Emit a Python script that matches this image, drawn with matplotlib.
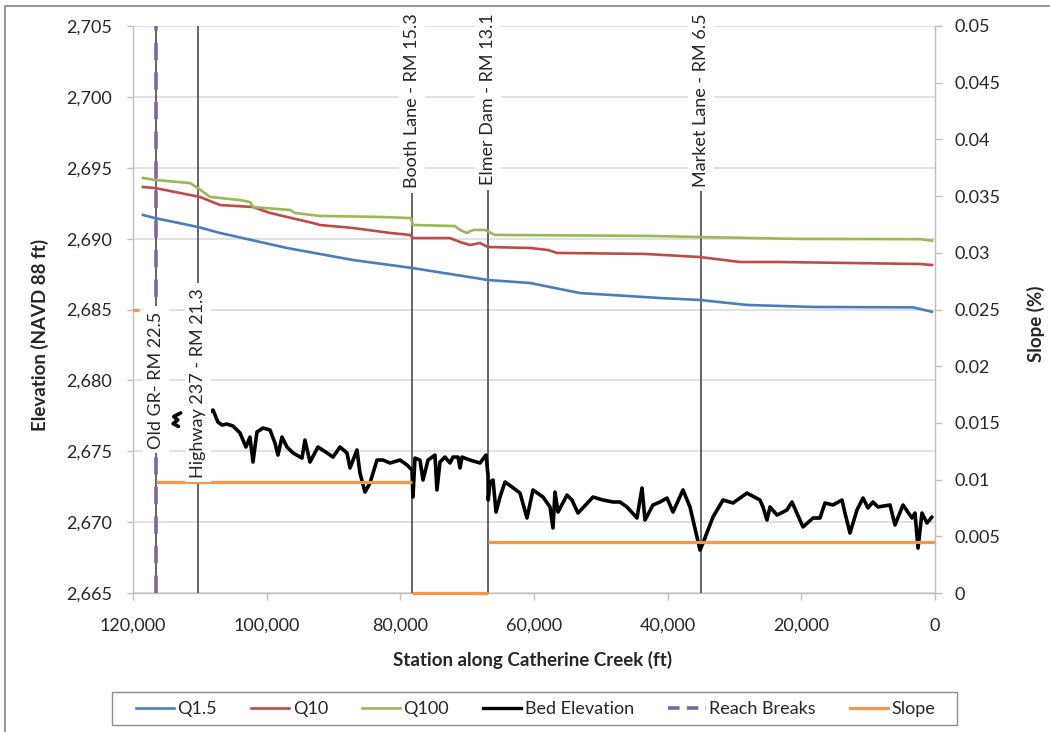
import matplotlib
matplotlib.use("Agg")
import matplotlib.pyplot as plt
import matplotlib.ticker as mticker
from matplotlib.lines import Line2D
from matplotlib.patches import Rectangle

plt.rcParams['font.family'] = ['Lato', 'DejaVu Sans']

nan = float('nan')

# ---------------- data ----------------
q15_station = [118510, 116710, 110280, 106990, 96960, 87080, 78260, 66880, 60600,
               53120, 41150, 35160, 28130, 18260, 3290, 450]
q15_elev = [2691.67, 2691.45, 2690.82, 2690.40, 2689.34, 2688.49, 2687.93, 2687.08,
            2686.87, 2686.16, 2685.81, 2685.67, 2685.32, 2685.18, 2685.15, 2684.84]

q10_station = [118510, 116710, 109980, 106990, 102050, 99500, 93070, 92020, 87080,
               81550, 78560, 78110, 72570, 71070, 69580, 68080, 66880, 60600, 57910,
               56560, 43390, 35160, 29180, 23190, 2240, 450]
q10_elev = [2693.64, 2693.57, 2692.94, 2692.37, 2692.23, 2691.81, 2691.10, 2690.96,
            2690.75, 2690.40, 2690.26, 2690.04, 2690.04, 2689.76, 2689.55, 2689.69,
            2689.41, 2689.34, 2689.20, 2688.99, 2688.92, 2688.70, 2688.35, 2688.35,
            2688.21, 2688.14]

q100_station = [118510, 116710, 111480, 110280, 108480, 103990, 102500, 102050, 100250,
                96510, 95760, 92020, 83050, 78410, 78110, 71820, 71070, 70020, 69130,
                67330, 65840, 42650, 35160, 20200, 2240, 450]
q100_elev = [2694.28, 2694.14, 2693.92, 2693.57, 2692.94, 2692.72, 2692.58, 2692.23,
             2692.16, 2692.02, 2691.81, 2691.60, 2691.53, 2691.45, 2690.96, 2690.89,
             2690.61, 2690.40, 2690.61, 2690.61, 2690.26, 2690.19, 2690.11, 2689.98,
             2689.96, 2689.86]

bed_station = [112870, 113900, 113300, 114000, 113200, nan,
               109000, 108030, 107290, 106690, 105940, 105040, 103990, 103100, 102500,
               102050, 101450, 100550, 99500, 98760, 98310, 97710, 96960, 96060, 94710,
               94270, 93520, 92320, 90970, 90080, 89030, 87980, 87530, 86490, 86040,
               85290, 84540, 83490, 82600, 81550, 80050, 79000, 78260, 78110, 77810,
               77060, 76610, 75860, 74820, 74520, 74070, 73320, 72570, 72120, 71370,
               71070, 70770, 69580, 68080, 67180, 66880, 66850, 66580, 66130, 65680,
               65090, 64340, 63290, 62090, 61050, 60150, 58650, 57610, 57160, 56860,
               56410, 55060, 54320, 53420, 51170, 49680, 48180, 47130, 46090, 44590,
               43840, 43390, 42200, 41150, 40100, 39200, 37710, 36660, 35160, 34710,
               33220, 31720, 30220, 28130, 26190, 25740, 25140, 24690, 23640, 22740,
               22150, 21400, 19750, 18260, 17210, 16460, 15260, 13920, 13470, 12720,
               11670, 10770, 10030, 9280, 8530, 6730, 5990, 4790, 3440, 2990, 2540,
               1950, 1200, 450]
bed_elev = [2677.70, 2677.45, 2677.20, 2676.95, 2676.75, nan,
            2677.60, 2677.91, 2677.06, 2676.85, 2676.92, 2676.78, 2676.29, 2675.30,
            2676.00, 2674.24, 2676.36, 2676.64, 2676.50, 2675.58, 2674.73, 2676.00,
            2675.30, 2674.88, 2674.52, 2675.79, 2674.24, 2675.30, 2674.88, 2674.59,
            2675.30, 2674.88, 2673.82, 2675.09, 2673.46, 2672.12, 2672.76, 2674.38,
            2674.38, 2674.17, 2674.38, 2674.03, 2673.68, 2671.77, 2674.52, 2674.38,
            2672.97, 2674.38, 2674.73, 2672.27, 2674.24, 2674.59, 2674.17, 2674.59,
            2674.59, 2673.82, 2674.59, 2674.38, 2674.17, 2674.73, 2673.32, 2671.56,
            2672.83, 2672.97, 2670.71, 2671.77, 2672.83, 2672.48, 2672.05, 2670.29,
            2672.27, 2671.77, 2671.07, 2669.59, 2672.12, 2670.71, 2671.91, 2671.56,
            2670.64, 2671.77, 2671.56, 2671.42, 2671.42, 2671.07, 2670.29, 2672.41,
            2670.15, 2671.21, 2671.42, 2671.70, 2670.71, 2672.27, 2671.07, 2668.03,
            2668.53, 2670.36, 2671.56, 2671.35, 2672.05, 2671.56, 2671.07, 2670.15,
            2671.07, 2670.50, 2670.71, 2670.86, 2671.42, 2669.66, 2670.29, 2670.29,
            2671.35, 2671.21, 2671.56, 2670.64, 2669.23, 2670.86, 2671.70, 2671.00,
            2671.42, 2671.07, 2671.21, 2669.80, 2671.21, 2670.29, 2670.64, 2668.17,
            2670.64, 2669.94, 2670.36]

reach_break_station = [116600]

slope_station = [120000, 119100, nan, 116600, 78260, nan, 78260, 66880, nan, 66880, 0]
slope_value = [0.025, 0.025, nan, 0.0098, 0.0098, nan, 0.0, 0.0, nan, 0.0045, 0.0045]

landmark_station = [116600, 110330, 78260, 66880, 35060]
landmark_labels = ["Old GR- RM 22.5", "Highway 237 - RM 21.3", "Booth Lane - RM 15.3",
                   "Elmer Dam - RM 13.1", "Market Lane - RM 6.5"]

x_ticks = [120000, 100000, 80000, 60000, 40000, 20000, 0]
y_ticks = [2665, 2670, 2675, 2680, 2685, 2690, 2695, 2700, 2705]
slope_ticks = [0, 0.005, 0.01, 0.015, 0.02, 0.025, 0.03, 0.035, 0.04, 0.045, 0.05]
slope_tick_labels = ["0", "0.005", "0.01", "0.015", "0.02", "0.025", "0.03", "0.035",
                     "0.04", "0.045", "0.05"]

# ---------------- style ----------------
C_BLUE = '#4A7EBB'
C_RED = '#BE4B48'
C_GREEN = '#98B954'
C_PURPLE = '#8064A2'
C_ORANGE = '#F79646'
C_GRID = '#d9d9d9'
C_AX = '#bfbfbf'
C_TXT = '#262626'
FS = 13
FS_T = 13.5

W, H = 1050, 732
fig = plt.figure(figsize=(W / 100, H / 100), dpi=100)
ax = fig.add_axes([133 / W, 1 - 593 / H, 802 / W, 567 / H])
ax2 = ax.twinx()

ax.set_xlim(120000, 0)
ax.set_ylim(2665, 2705)
ax2.set_ylim(0, 0.05)

ax.set_xticks(x_ticks)
ax.set_yticks(y_ticks)
ax.xaxis.set_major_formatter(mticker.FuncFormatter(lambda v, p: f"{int(v):,}"))
ax.yaxis.set_major_formatter(mticker.FuncFormatter(lambda v, p: f"{int(v):,}"))
ax2.set_yticks(slope_ticks)
ax2.set_yticklabels(slope_tick_labels)

ax.grid(axis='y', color=C_GRID, lw=1.1, zorder=0)
ax.set_axisbelow(True)
for a in (ax, ax2):
    for s in a.spines.values():
        s.set_color(C_AX)
        s.set_linewidth(1.0)
    a.spines['top'].set_visible(False)
ax.spines['right'].set_visible(False)
ax2.spines['left'].set_visible(False)
ax2.spines['bottom'].set_visible(False)

ax.tick_params(axis='y', direction='out', length=4.3, width=1, color=C_AX,
               labelsize=FS, labelcolor=C_TXT, pad=11)
ax.tick_params(axis='x', direction='out', length=5, width=1, color=C_AX,
               labelsize=FS, labelcolor=C_TXT, pad=13)
ax2.tick_params(axis='y', direction='out', length=5, width=1, color=C_AX,
                labelsize=FS, labelcolor=C_TXT, pad=9)

# landmark lines
for st in landmark_station:
    ax.axvline(st, color='#3a3a3a', lw=1.1, zorder=3)

# reach breaks
for st in reach_break_station:
    ax.plot([st, st], [2665, 2705], color=C_PURPLE, lw=2.6,
            linestyle=(0, (4.8, 3.4)), zorder=4, solid_capstyle='butt')

ax.plot(q15_station, q15_elev, color=C_BLUE, lw=1.9, zorder=5)
ax.plot(q10_station, q10_elev, color=C_RED, lw=1.9, zorder=5)
ax.plot(q100_station, q100_elev, color=C_GREEN, lw=1.9, zorder=5)
ax.plot(bed_station, bed_elev, color='black', lw=2.6, zorder=6,
        solid_joinstyle='round', solid_capstyle='round')

ax2.plot(slope_station, slope_value, color=C_ORANGE, lw=2.3, zorder=2,
         solid_capstyle='butt', clip_on=False)

# landmark labels (on top layer)
trans = ax2.get_xaxis_transform()
label_pos = [(0.3757, 'center'), (0.371, 'center'), (1.0229, 'top'),
             (1.0229, 'top'), (1.0229, 'top')]
for st, lab, (yy, va) in zip(landmark_station, landmark_labels, label_pos):
    ax2.text(st, yy, lab, rotation=90, transform=trans, ha='center', va=va,
             fontsize=FS, color=C_TXT, zorder=10, clip_on=False,
             bbox=dict(facecolor='white', edgecolor='none', pad=3.5))

# axis titles
fig.text(40 / W, 1 - 335 / H, "Elevation (NAVD 88 ft)", rotation=90, ha='center',
         va='center', fontsize=FS_T, fontweight='bold', color=C_TXT)
fig.text(1036 / W, 1 - 324 / H, "Slope (%)", rotation=90, ha='center',
         va='center', fontsize=FS_T, fontweight='bold', color=C_TXT)
fig.text(533 / W, 1 - 660 / H, "Station along Catherine Creek (ft)", ha='center',
         va='center', fontsize=FS_T, fontweight='bold', color=C_TXT)

# legend
handles = [
    Line2D([], [], color=C_BLUE, lw=1.9),
    Line2D([], [], color=C_RED, lw=1.9),
    Line2D([], [], color=C_GREEN, lw=1.9),
    Line2D([], [], color='black', lw=2.4),
    Line2D([], [], color=C_PURPLE, lw=2.6, linestyle=(0, (3.2, 2.0))),
    Line2D([], [], color=C_ORANGE, lw=2.3),
]
labels = ["Q1.5", "Q10", "Q100", "Bed Elevation", "Reach Breaks", "Slope"]
fig.legend(handles, labels, loc='center', ncol=6, mode='expand',
           bbox_to_anchor=(136 / W, 1 - 709 / H - 0.01, 799 / W, 0.02),
           frameon=False, fontsize=FS, handlelength=2.1, handletextpad=0.2,
           borderpad=0, borderaxespad=0, labelcolor=C_TXT)
fig.patches.append(Rectangle((112 / W, 1 - 725 / H), 845 / W, 33 / H,
                             transform=fig.transFigure, fill=False,
                             edgecolor='#8c8c8c', lw=1.0))
# chart-area border
fig.patches.append(Rectangle((5 / W, -0.1), 1.2, 1.1 - 6 / H,
                             transform=fig.transFigure, fill=False,
                             edgecolor='#8c8c8c', lw=1.3))

fig.savefig('out.png', dpi=100)
